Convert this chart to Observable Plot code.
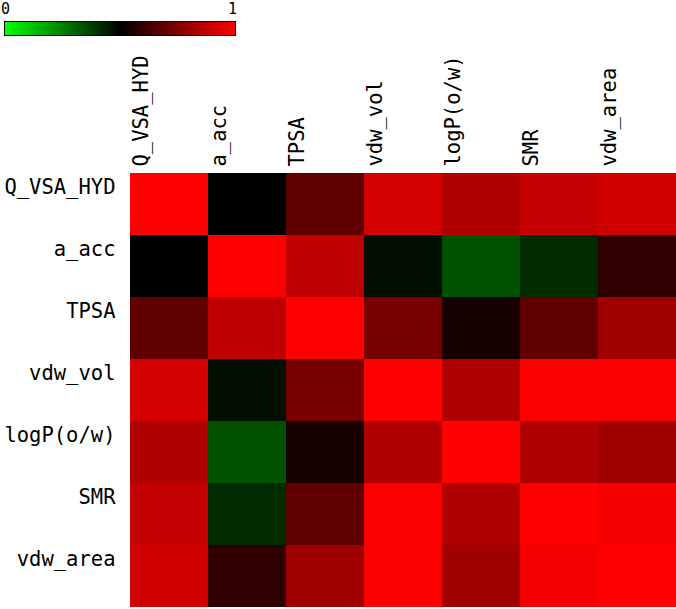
<!DOCTYPE html>
<html>
<head>
<meta charset="utf-8">
<script src="https://cdn.jsdelivr.net/npm/d3@7"></script>
<script src="https://cdn.jsdelivr.net/npm/@observablehq/plot@0.6"></script>
<style>
  html, body { margin: 0; padding: 0; background: #fff; }
  #wrap { position: relative; width: 676px; height: 609px; overflow: hidden; }
  #legend { position: absolute; left: 0; top: 0; width: 250px; height: 40px; font-family: "DejaVu Sans Mono", monospace; font-size: 15px; line-height: 15px; color: #000; }
  #bar { position: absolute; left: 4px; top: 21px; width: 230px; height: 13px; border: 1px solid #000;
         background: linear-gradient(to right, #00ff00, #000000, #ff0000); }
  #l0 { position: absolute; left: 1px; top: 2px; }
  #l1 { position: absolute; left: 228px; top: 2px; }
</style>
</head>
<body>
<div id="wrap">
  <div id="chart"></div>
  <div id="legend"><span id="l0">0</span><span id="l1">1</span><div id="bar"></div></div>
</div>
<script>
const names = ["Q_VSA_HYD", "a_acc", "TPSA", "vdw_vol", "logP(o/w)", "SMR", "vdw_area"];
const rowQ_VSA_HYD = [1.000, 0.500, 0.690, 0.915, 0.845, 0.885, 0.910];
const rowA_acc     = [0.500, 1.000, 0.870, 0.470, 0.340, 0.415, 0.595];
const rowTPSA      = [0.690, 0.870, 1.000, 0.735, 0.545, 0.690, 0.815];
const rowVdw_vol   = [0.915, 0.470, 0.735, 1.000, 0.845, 0.995, 0.995];
const rowLogP      = [0.845, 0.340, 0.545, 0.845, 1.000, 0.845, 0.815];
const rowSMR       = [0.885, 0.415, 0.690, 0.995, 0.845, 1.000, 0.980];
const rowVdw_area  = [0.910, 0.595, 0.815, 0.995, 0.815, 0.980, 1.000];
const rows = [rowQ_VSA_HYD, rowA_acc, rowTPSA, rowVdw_vol, rowLogP, rowSMR, rowVdw_area];

const cells = [];
rows.forEach((r, i) => r.forEach((v, j) => cells.push({row: names[i], col: names[j], value: v})));

const chart = Plot.plot({
  width: 676,
  height: 609,
  marginLeft: 130,
  marginRight: 0,
  marginTop: 171,
  marginBottom: 0,
  style: {fontFamily: "DejaVu Sans Mono, monospace", fontSize: "20.5px", color: "#000", background: "#fff"},
  x: {domain: names, padding: 0, axis: null},
  y: {domain: names, padding: 0, axis: null},
  color: {type: "linear", domain: [0, 0.5, 1], range: ["#00ff00", "#000000", "#ff0000"], interpolate: "rgb"},
  marks: [
    Plot.cell(cells, {x: "col", y: "row", fill: "value", inset: 0}),
    Plot.axisX({anchor: "top", label: null, tickSize: 0, tickPadding: 5, tickRotate: -90, dx: -28, textAnchor: "start", fontSize: 20.5}),
    Plot.axisY({anchor: "left", label: null, tickSize: 0, tickPadding: 15, dy: -17, fontSize: 20.5})
  ]
});
document.getElementById("chart").appendChild(chart);
</script>
</body>
</html>
